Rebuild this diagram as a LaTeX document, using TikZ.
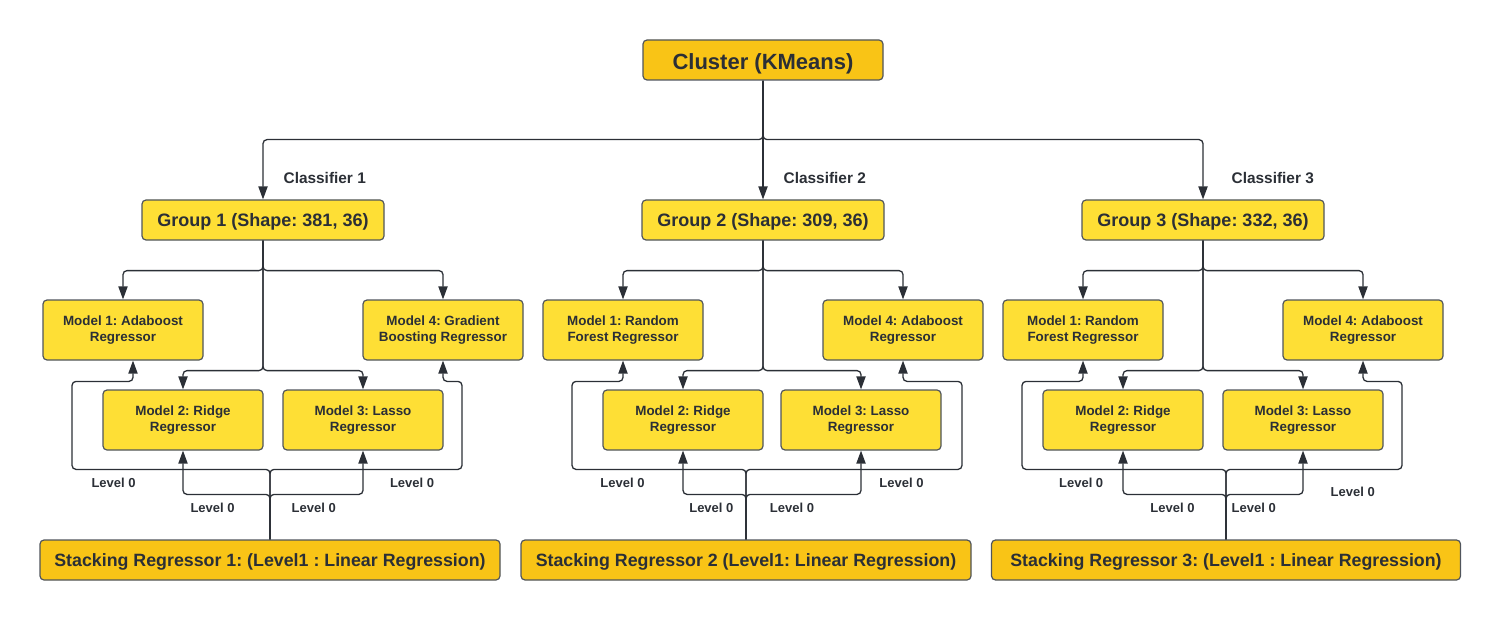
\documentclass[tikz,border=0pt]{standalone}
\usepackage{fontspec}
\setmainfont{Liberation Sans}
\usetikzlibrary{shapes,arrows,arrows.meta}
\frenchspacing
\definecolor{ink}{HTML}{2B2F36}
\definecolor{edge}{HTML}{50555C}
\definecolor{amber}{HTML}{F9C416}
\definecolor{lemon}{HTML}{FEDF35}
\tikzstyle{base} = [rectangle, draw=edge, line width=0.6pt, rounded corners=2pt, text=ink, text centered, inner sep=2pt]
\tikzstyle{top_block} = [base, fill=amber, minimum width=120pt, minimum height=20pt, text height=10pt, text depth=0pt, font=\fontsize{11}{13}\selectfont\bfseries]
\tikzstyle{group_block} = [base, fill=lemon, minimum width=121pt, minimum height=20pt, text height=6.9pt, text depth=0pt, font=\fontsize{9}{11}\selectfont\bfseries]
\tikzstyle{model_block} = [base, fill=lemon, minimum width=80pt, minimum height=30pt, align=center, font=\fontsize{6.7}{8}\selectfont\bfseries]
\tikzstyle{stack_block} = [base, fill=amber, minimum height=20pt, text height=6.4pt, text depth=0pt, font=\fontsize{8.9}{11}\selectfont\bfseries]
\tikzstyle{level_label} = [inner sep=0, yshift=-6.5pt, text=ink, font=\fontsize{6.5}{8}\selectfont\bfseries]
\tikzstyle{class_label} = [inner sep=0, anchor=west, xshift=10pt, text=ink, font=\fontsize{7.7}{9}\selectfont\bfseries]
\tikzstyle{line} = [draw=ink, line width=0.65pt, rounded corners=2pt, -{Triangle[length=6.5pt, width=4.6pt]}]

\begin{document}
\begin{tikzpicture}[x=0.5pt, y=0.5pt]
\useasboundingbox (0,0) rectangle (1502,-620);

\node [top_block] (cluster) at (763,-60) {Cluster (KMeans)};
\node [group_block, below of=cluster, node distance=80pt] (g2) {Group 2 (Shape: 309, 36)};
\node [group_block, left of=g2, node distance=250pt] (g1) {Group 1 (Shape: 381, 36)};
\node [group_block, right of=g2, node distance=220pt] (g3) {Group 3 (Shape: 332, 36)};

% group 1
\node [model_block, below of=g1, node distance=55pt, xshift=-70pt] (g1m1) {Model 1: Adaboost\\Regressor};
\node [model_block, below of=g1, node distance=55pt, xshift=90pt] (g1m4) {Model 4: Gradient\\Boosting Regressor};
\node [model_block, below of=g1, node distance=100pt, xshift=-40pt] (g1m2) {Model 2: Ridge\\Regressor};
\node [model_block, below of=g1, node distance=100pt, xshift=50pt] (g1m3) {Model 3: Lasso\\Regressor};
\node [stack_block, minimum width=230pt, below of=g1, node distance=170pt, xshift=3.5pt] (s1) {Stacking Regressor 1: (Level1 : Linear Regression)};

% group 2
\node [model_block, below of=g2, node distance=55pt, xshift=-70pt] (g2m1) {Model 1: Random\\Forest Regressor};
\node [model_block, below of=g2, node distance=55pt, xshift=70pt] (g2m4) {Model 4: Adaboost\\Regressor};
\node [model_block, below of=g2, node distance=100pt, xshift=-40pt] (g2m2) {Model 2: Ridge\\Regressor};
\node [model_block, below of=g2, node distance=100pt, xshift=49pt] (g2m3) {Model 3: Lasso\\Regressor};
\node [stack_block, minimum width=225pt, below of=g2, node distance=170pt, xshift=-8.5pt] (s2) {Stacking Regressor 2 (Level1: Linear Regression)};

% group 3
\node [model_block, below of=g3, node distance=55pt, xshift=-60pt] (g3m1) {Model 1: Random\\Forest Regressor};
\node [model_block, below of=g3, node distance=55pt, xshift=80pt] (g3m4) {Model 4: Adaboost\\Regressor};
\node [model_block, below of=g3, node distance=100pt, xshift=-40pt] (g3m2) {Model 2: Ridge\\Regressor};
\node [model_block, below of=g3, node distance=100pt, xshift=50pt] (g3m3) {Model 3: Lasso\\Regressor};
\node [stack_block, minimum width=234.5pt, below of=g3, node distance=170pt, xshift=11.5pt] (s3) {Stacking Regressor 3: (Level1 : Linear Regression)};

% clusters
\path [line] (cluster.south) -- ++(0,-59) -| node[class_label, pos=0.82] {Classifier 1} (g1.north);
\path [line] (cluster.south) -- node[class_label, pos=0.82] {Classifier 2} (g2.north);
\path [line] (cluster.south) -- ++(0,-59) -| node[class_label, pos=0.82, xshift=4pt] {Classifier 3} (g3.north);

% group 1 lines
\path [line] (g1.south) -- ++(0,-30) -| (g1m1.north);
\path [line] (g1.south) -- ++(0,-30) -| (g1m4.north);
\path [line] (g1.south) -- ++(0,-130) -| (g1m2.north);
\path [line] (g1.south) -- ++(0,-130) -| (g1m3.north);
\path [line] (s1.north) -- ++(0,70) -| node[level_label, pos=0.395] {Level 0} ++(-198,88) -| ([xshift=5pt]g1m1.south);
\path [line] (s1.north) -- ++(0,70) -| node[level_label, pos=0.37] {Level 0} ++(192,88) -| (g1m4.south);
\path [line] (s1.north) -- ++(0,45) -| node[level_label, pos=0.33] {Level 0} (g1m2.south);
\path [line] (s1.north) -- ++(0,45) -| node[level_label, pos=0.235] {Level 0} (g1m3.south);

% group 2 lines
\path [line] (g2.south) -- ++(0,-30) -| (g2m1.north);
\path [line] (g2.south) -- ++(0,-30) -| (g2m4.north);
\path [line] (g2.south) -- ++(0,-130) -| (g2m2.north);
\path [line] (g2.south) -- ++(0,-130) -| (g2m3.north);
\path [line] (s2.north) -- ++(0,70) -| node[level_label, pos=0.355] {Level 0} ++(-174,88) -| (g2m1.south);
\path [line] (s2.north) -- ++(0,70) -| node[level_label, pos=0.36] {Level 0} ++(216,88) -| (g2m4.south);
\path [line] (s2.north) -- ++(0,45) -| node[level_label, pos=0.275] {Level 0} (g2m2.south);
\path [line] (s2.north) -- ++(0,45) -| node[level_label, pos=0.2] {Level 0} (g2m3.south);

% group 3 lines
\path [line] (g3.south) -- ++(0,-30) -| (g3m1.north);
\path [line] (g3.south) -- ++(0,-30) -| (g3m4.north);
\path [line] (g3.south) -- ++(0,-130) -| (g3m2.north);
\path [line] (g3.south) -- ++(0,-130) -| (g3m3.north);
\path [line] (s3.north) -- ++(0,70) -| node[level_label, pos=0.355] {Level 0} ++(-204,88) -| (g3m1.south);
\path [line] (s3.north) -- ++(0,70) -| node[level_label, pos=0.36, yshift=-4.5pt] {Level 0} ++(176,88) -| (g3m4.south);
\path [line] (s3.north) -- ++(0,45) -| node[level_label, pos=0.26] {Level 0} (g3m2.south);
\path [line] (s3.north) -- ++(0,45) -| node[level_label, pos=0.18] {Level 0} (g3m3.south);

\end{tikzpicture}
\end{document}
